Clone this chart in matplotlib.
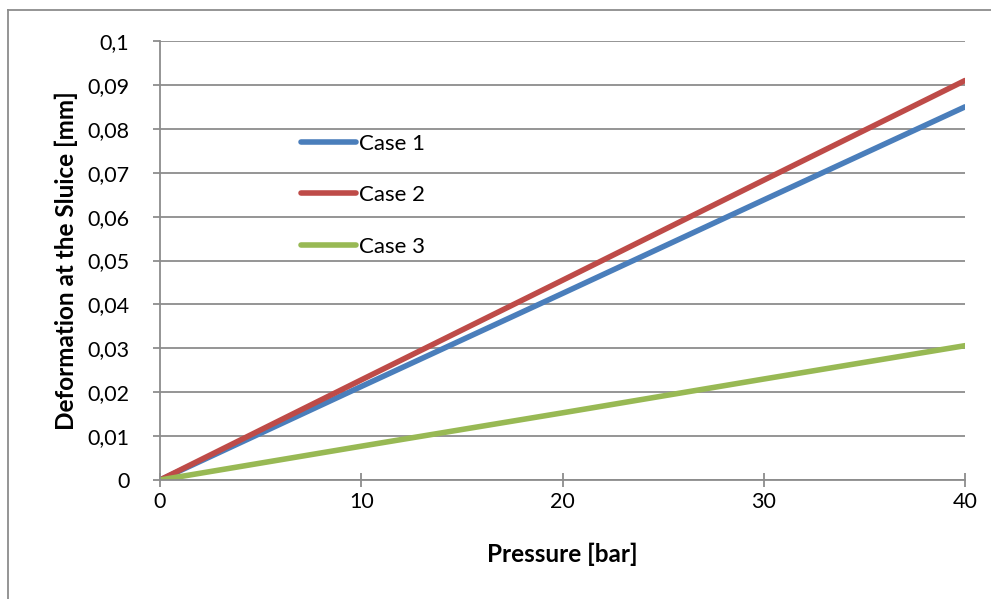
"""Deformation vs pressure chart (Excel style)."""

import matplotlib
matplotlib.use("Agg")
import matplotlib.pyplot as plt
from matplotlib.lines import Line2D
from matplotlib.ticker import FuncFormatter

plt.rcParams["font.family"] = ["Lato", "DejaVu Sans"]

# Data
pressure = [0, 10, 20, 30, 40]
case1 = [0, 0.0213, 0.0425, 0.0638, 0.0850]
case2 = [0, 0.0228, 0.0455, 0.0683, 0.0910]
case3 = [0, 0.0077, 0.0153, 0.0230, 0.0306]
labels = ["Case 1", "Case 2", "Case 3"]
colors = ["#4a7ebb", "#be4b48", "#98b954"]

fig = plt.figure(figsize=(9.91, 5.99), dpi=100)
ax = fig.add_axes([160 / 991, 1 - 480 / 599, 805 / 991, 439 / 599])

for ys, lab, c in zip([case1, case2, case3], labels, colors):
    ax.plot(pressure, ys, color=c, lw=4, label=lab, solid_capstyle="round")

ax.set_xlim(0, 40)
ax.set_ylim(0, 0.1)
ax.set_xticks([0, 10, 20, 30, 40])
ax.set_yticks([i / 100 for i in range(11)])
ax.yaxis.set_major_formatter(
    FuncFormatter(lambda v, p: "0" if v == 0 else f"{v:.2f}".rstrip("0").replace(".", ","))
)
ax.grid(axis="y", color="#8c8c8c", lw=1.3)
ax.set_axisbelow(True)
for s in ["top", "right"]:
    ax.spines[s].set_visible(False)
for s in ["left", "bottom"]:
    ax.spines[s].set_color("#8c8c8c")
    ax.spines[s].set_linewidth(1.3)
ax.tick_params(axis="both", colors="#8c8c8c", labelcolor="black", labelsize=15.5,
               length=5, width=1.3)
ax.tick_params(axis="y", pad=17)
ax.tick_params(axis="x", direction="inout", length=10, pad=4)

ax.set_xlabel("Pressure [bar]", fontsize=17.5, fontweight="bold", labelpad=22)
ax.set_ylabel("Deformation at the Sluice [mm]", fontsize=17.5, fontweight="bold", labelpad=7)

ax.legend(loc="upper left", bbox_to_anchor=(0.15, 0.834), frameon=False, fontsize=16,
          handlelength=2.5, handletextpad=0.1, labelspacing=1.41)

# Chart area border (only top and left visible)
fig.add_artist(Line2D([8 / 991, 1], [1 - 10 / 599, 1 - 10 / 599], color="#8c8c8c", lw=1.3))
fig.add_artist(Line2D([8 / 991, 8 / 991], [0, 1 - 10 / 599], color="#8c8c8c", lw=1.3))

fig.savefig("out.png", dpi=100)
